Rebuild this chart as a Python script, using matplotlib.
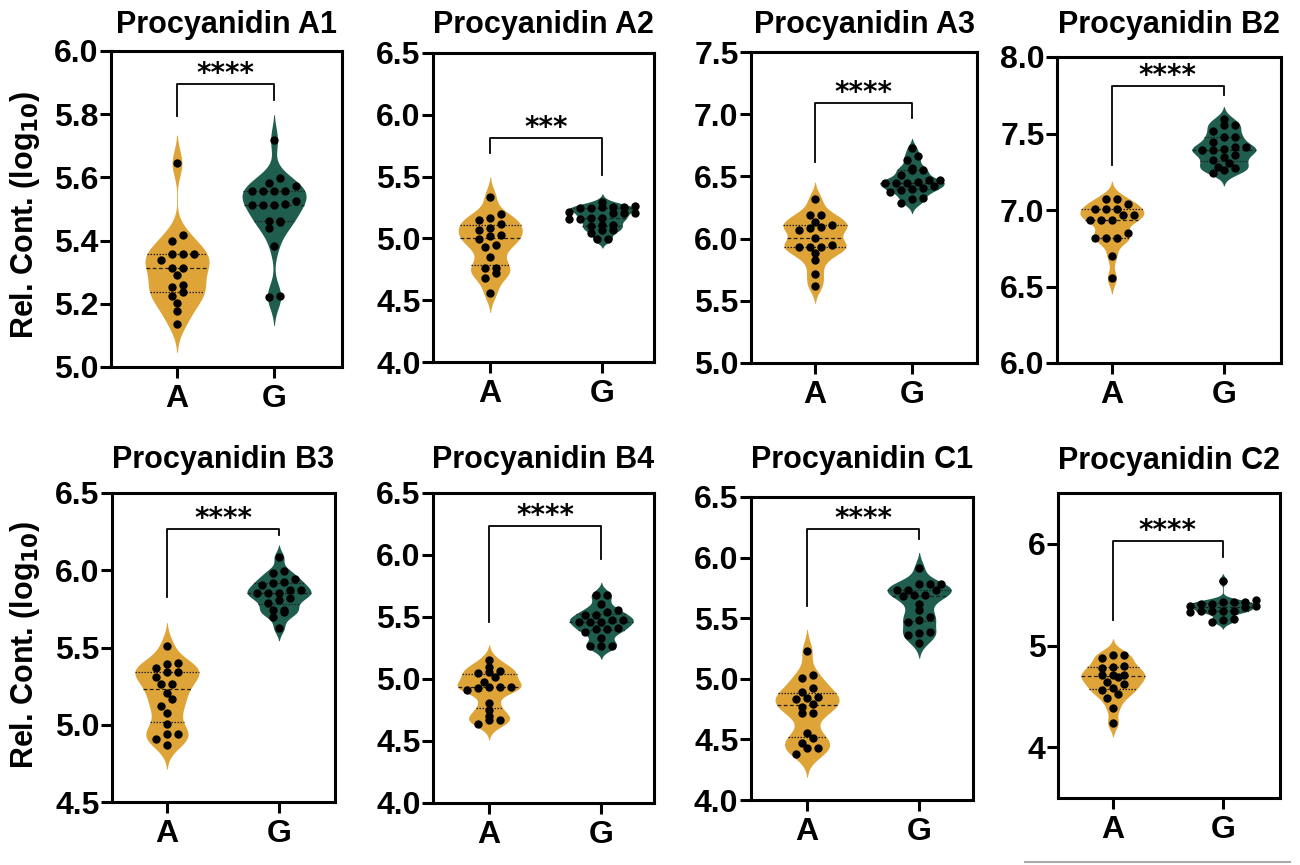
import numpy as np
import matplotlib
matplotlib.use('Agg')
import matplotlib.pyplot as plt
from matplotlib.lines import Line2D

plt.rcParams['font.family'] = ['Liberation Sans', 'DejaVu Sans']
plt.rcParams['font.weight'] = 'bold'

# ---- data (log10 relative content) ----
groups = ['A', 'G']
titles = ['Procyanidin A1', 'Procyanidin A2', 'Procyanidin A3', 'Procyanidin B2',
          'Procyanidin B3', 'Procyanidin B4', 'Procyanidin C1', 'Procyanidin C2']

a1_A = [5.645, 5.419, 5.399, 5.357, 5.357, 5.357, 5.338, 5.313, 5.313, 5.290,
        5.258, 5.252, 5.236, 5.226, 5.203, 5.176, 5.137]
a1_G = [5.719, 5.597, 5.583, 5.574, 5.558, 5.558, 5.558, 5.558, 5.525, 5.512,
        5.512, 5.512, 5.515, 5.462, 5.462, 5.459, 5.441, 5.383, 5.226, 5.221]

a2_A = [5.338, 5.195, 5.162, 5.149, 5.120, 5.081, 5.068, 5.027, 5.019, 4.992,
        4.946, 4.932, 4.846, 4.762, 4.762, 4.722, 4.676, 4.559]
a2_G = [4.992, 4.992, 5.046, 5.068, 5.068, 5.100, 5.108, 5.108, 5.154, 5.154,
        5.162, 5.162, 5.203, 5.203, 5.203, 5.216, 5.243, 5.243, 5.251, 5.257,
        5.257, 5.262, 5.297]

a3_A = [6.315, 6.190, 6.190, 6.136, 6.096, 6.083, 6.070, 6.110, 6.003, 5.936,
        5.949, 5.936, 5.936, 5.882, 5.824, 5.717, 5.620]
a3_G = [6.725, 6.663, 6.631, 6.564, 6.551, 6.551, 6.511, 6.471, 6.449, 6.457,
        6.449, 6.471, 6.444, 6.404, 6.425, 6.377, 6.396, 6.390, 6.324, 6.318,
        6.283]

b2_A = [7.070, 7.070, 7.039, 7.004, 7.004, 7.004, 6.967, 6.967, 6.935, 6.935,
        6.935, 6.848, 6.820, 6.815, 6.815, 6.702, 6.554]
b2_G = [7.598, 7.554, 7.554, 7.517, 7.478, 7.478, 7.446, 7.413, 7.413, 7.396,
        7.391, 7.391, 7.359, 7.348, 7.326, 7.304, 7.283, 7.272, 7.261, 7.239]

b3_A = [5.512, 5.397, 5.391, 5.369, 5.343, 5.343, 5.311, 5.263, 5.263, 5.203,
        5.164, 5.123, 5.077, 5.002, 4.943, 4.939, 4.911, 4.868]
b3_G = [6.083, 5.992, 5.981, 5.942, 5.927, 5.916, 5.905, 5.873, 5.869, 5.851,
        5.851, 5.851, 5.819, 5.808, 5.791, 5.743, 5.743, 5.732, 5.696, 5.624]

b4_A = [5.153, 5.099, 5.067, 5.059, 5.045, 5.018, 4.973, 4.938, 4.938, 4.932,
        4.924, 4.911, 4.808, 4.754, 4.700, 4.673, 4.668, 4.641]
b4_G = [5.678, 5.678, 5.603, 5.557, 5.544, 5.517, 5.517, 5.476, 5.476, 5.463,
        5.463, 5.463, 5.409, 5.401, 5.401, 5.382, 5.328, 5.266, 5.266, 5.266]

c1_A = [5.228, 5.030, 5.003, 4.920, 4.893, 4.852, 4.838, 4.830, 4.791, 4.769,
        4.720, 4.714, 4.555, 4.508, 4.473, 4.426, 4.426, 4.379]
c1_G = [5.915, 5.786, 5.780, 5.780, 5.736, 5.736, 5.731, 5.690, 5.690, 5.681,
        5.621, 5.566, 5.511, 5.489, 5.470, 5.387, 5.379, 5.360, 5.299]

c2_A = [4.911, 4.911, 4.875, 4.803, 4.787, 4.777, 4.711, 4.705, 4.705, 4.689,
        4.639, 4.623, 4.584, 4.564, 4.525, 4.482, 4.384, 4.236]
c2_G = [5.639, 5.449, 5.426, 5.426, 5.426, 5.410, 5.410, 5.393, 5.384, 5.377,
        5.344, 5.344, 5.344, 5.344, 5.328, 5.262, 5.252, 5.230]

series_A = [a1_A, a2_A, a3_A, b2_A, b3_A, b4_A, c1_A, c2_A]
series_G = [a1_G, a2_G, a3_G, b2_G, b3_G, b4_G, c1_G, c2_G]
sig_labels = ['****', '***', '****', '****', '****', '****', '****', '****']

y_limits = [(5.0, 6.0), (4.0, 6.5), (5.0, 7.5), (6.0, 8.0),
            (4.5, 6.5), (4.0, 6.5), (4.0, 6.5), (3.5, 6.5)]
y_ticks = [np.arange(5.0, 6.01, 0.2), np.arange(4.0, 6.51, 0.5),
           np.arange(5.0, 7.51, 0.5), np.arange(6.0, 8.01, 0.5),
           np.arange(4.5, 6.51, 0.5), np.arange(4.0, 6.51, 0.5),
           np.arange(4.0, 6.51, 0.5), [4, 5, 6]]
y_fmt = ['%.1f'] * 7 + ['%d']

# bracket: top, end of A leg, end of G leg
brackets = [(5.894, 5.793, 5.846), (5.811, 5.689, 5.514), (7.091, 6.618, 6.973),
            (7.809, 7.293, 7.754), (6.269, 5.830, 6.230), (6.230, 5.463, 5.967),
            (6.233, 5.600, 6.157), (6.023, 5.250, 5.870)]

# ---- layout (pixel boxes: left, top, right, bottom) ----
W, H = 1300, 865
boxes = [(111, 51, 342, 367), (433, 53, 654, 362), (751, 52, 977, 363), (1057, 57, 1281, 363),
         (112, 493, 335, 802), (433, 493, 654, 803), (751, 497, 973, 800), (1058, 493, 1280, 798)]
x_limits = [(-0.68, 1.70), (-0.51, 1.46), (-0.66, 1.67), (-0.49, 1.51),
            (-0.49, 1.50), (-0.50, 1.47), (-0.50, 1.48), (-0.50, 1.52)]
title_y = [25, 25, 25, 25, 460, 460, 460, 461]

gold = '#DEA437'
teal = '#1F5D4E'
colors = [gold, teal]

fig = plt.figure(figsize=(W / 100, H / 100), dpi=100)


def kde(vals, grid, bw):
    z = (grid[:, None] - vals[None, :]) / bw
    return np.exp(-0.5 * z ** 2).sum(axis=1)


def swarm(vals, dy, dx):
    order = np.argsort(vals, kind='stable')
    xs = np.zeros(len(vals))
    clusters, cur = [], [order[0]]
    for i in order[1:]:
        if vals[i] - vals[cur[0]] < dy:
            cur.append(i)
        else:
            clusters.append(cur)
            cur = [i]
    clusters.append(cur)
    for c in clusters:
        k = len(c)
        for j, i in enumerate(c):
            xs[i] = (j - (k - 1) / 2) * dx
    return xs


for p in range(8):
    l, t, r, b = boxes[p]
    ax = fig.add_axes([l / W, 1 - b / H, (r - l) / W, (b - t) / H])
    x0, x1 = x_limits[p]
    y0, y1 = y_limits[p]
    ax.set_xlim(x0, x1)
    ax.set_ylim(y0, y1)
    px_x = (r - l) / (x1 - x0)
    px_y = (b - t) / (y1 - y0)

    for gi, vals in enumerate([series_A[p], series_G[p]]):
        v = np.asarray(vals, dtype=float)
        bw = 0.6 * v.std(ddof=1) * len(v) ** (-1 / 5)
        grid = np.linspace(v.min() - 4 * bw, v.max() + 4 * bw, 400)
        d = kde(v, grid, bw)
        d = d / d.max()
        keep = d > 0.012
        grid, d = grid[keep], d[keep]
        half = d * 32 / px_x
        ax.fill_betweenx(grid, gi - half, gi + half, color=colors[gi], lw=0, zorder=1)

        q1, med, q3 = np.percentile(v, [25, 50, 75])
        for q, ls in [(q1, (0, (1.2, 1.2))), (med, (0, (3, 2))), (q3, (0, (1.2, 1.2)))]:
            hw = np.interp(q, grid, half)
            ax.plot([gi - hw, gi + hw], [q, q], color='#202020', lw=0.9, ls=ls, zorder=2)

        xs = swarm(v, 6.5 / px_y, 11 / px_x)
        ax.plot(gi + xs, v, 'o', color='black', ms=6.0, mew=0, zorder=3)

    top, la, lg = brackets[p]
    ax.plot([0, 0, 1, 1], [la, top, top, lg], color='black', lw=1.3, zorder=4)
    ax.annotate(sig_labels[p], (0.5, top), xytext=(0, 1.5), textcoords='offset points',
                ha='center', va='baseline', fontsize=20, family='DejaVu Sans',
                fontweight='bold')

    ax.set_xticks([0, 1])
    ax.set_xticklabels(groups, fontsize=23, fontweight='bold')
    ax.set_yticks(y_ticks[p])
    ax.set_yticklabels([y_fmt[p] % v for v in y_ticks[p]], fontsize=23, fontweight='bold')
    ax.tick_params(axis='x', length=8, width=2.2, pad=4)
    ax.tick_params(axis='y', length=8, width=2.2, pad=1)
    for s in ax.spines.values():
        s.set_linewidth(2.2)

    fig.text((l + r) / 2 / W, 1 - title_y[p] / H, titles[p], ha='center', va='center',
             fontsize=22, fontweight='bold')

fig.text(25 / W, 1 - 215 / H, r'Rel. Cont. (log$_{\mathbf{10}}$)', rotation=90,
         ha='center', va='center', fontsize=22, fontweight='bold')
fig.text(25 / W, 1 - 645 / H, r'Rel. Cont. (log$_{\mathbf{10}}$)', rotation=90,
         ha='center', va='center', fontsize=22, fontweight='bold')

fig.add_artist(Line2D([1025 / W, 1290 / W], [1 - 862 / H] * 2, color='#aaaaaa', lw=1.5))

fig.savefig('out.png', dpi=100)
